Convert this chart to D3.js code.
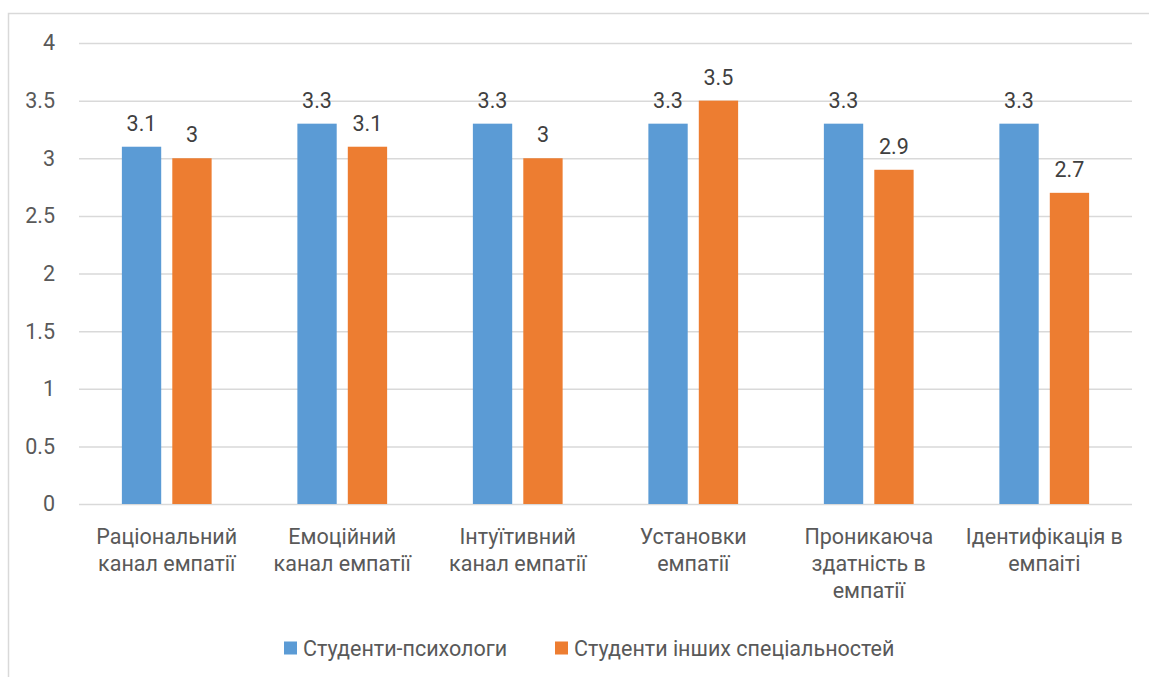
<!DOCTYPE html>
<html>
<head>
<meta charset="utf-8">
<script src="https://cdn.jsdelivr.net/npm/d3@7"></script>
<style>
  html, body { margin: 0; padding: 0; background: #fff; }
  svg { display: block; }
  text { font-family: Roboto, "Open Sans", "Noto Sans", sans-serif; }
</style>
</head>
<body>
<svg id="chart" width="1149" height="677"></svg>
<script>
const categories = [
  "Раціональний\nканал емпатії",
  "Емоційний\nканал емпатії",
  "Інтуїтивний\nканал емпатії",
  "Установки\nемпатії",
  "Проникаюча\nздатність в\nемпатії",
  "Ідентифікація в\nемпаіті"
];
const seriesNames = ["Студенти-психологи", "Студенти інших спеціальностей"];
const psychologists = [3.1, 3.3, 3.3, 3.3, 3.3, 3.3];
const others = [3, 3.1, 3, 3.5, 2.9, 2.7];
const yTicks = [0, 0.5, 1, 1.5, 2, 2.5, 3, 3.5, 4];
const colors = ["#5b9bd5", "#ed7d31"];

const FS = "21.5px";
const svg = d3.select("#chart");
const W = 1149, H = 677;
const plot = { left: 79, right: 1132, top: 43, bottom: 504 };

// outer chart border
svg.append("rect")
  .attr("x", 8.5).attr("y", 13.5)
  .attr("width", W + 20).attr("height", H + 20)
  .attr("fill", "#fff").attr("stroke", "#d9d9d9").attr("stroke-width", 1.5);

const x0 = d3.scaleBand().domain(categories).range([plot.left, plot.right]).paddingInner(0).paddingOuter(0);
const bw = x0.bandwidth();
const x1 = d3.scaleBand().domain([0, 1]).range([bw * 0.2443, bw * 0.7557]).paddingInner(0.22).paddingOuter(0);
const y = d3.scaleLinear().domain([0, 4]).range([plot.bottom, plot.top]);

// gridlines
const yAxis = d3.axisLeft(y).tickValues(yTicks).tickSize(-(plot.right - plot.left)).tickPadding(24)
  .tickFormat(d => d3.format("")(d));
const gy = svg.append("g").attr("transform", `translate(${plot.left},0)`).call(yAxis);
gy.select(".domain").remove();
gy.selectAll(".tick line").attr("stroke", "#d9d9d9").attr("stroke-width", 1.5);
gy.selectAll(".tick text").attr("fill", "#595959").style("font-size", FS).style("font-family", "Roboto, sans-serif");

const data = categories.map((c, i) => ({ cat: c, vals: [psychologists[i], others[i]] }));

const groups = svg.append("g").selectAll("g").data(data).join("g")
  .attr("transform", d => `translate(${x0(d.cat)},0)`);

groups.selectAll("rect").data(d => d.vals.map((v, k) => ({ v, k }))).join("rect")
  .attr("x", d => x1(d.k))
  .attr("width", x1.bandwidth())
  .attr("y", d => y(d.v))
  .attr("height", d => y(0) - y(d.v))
  .attr("fill", d => colors[d.k]);

groups.selectAll("text.val").data(d => d.vals.map((v, k) => ({ v, k }))).join("text")
  .attr("class", "val")
  .attr("x", d => x1(d.k) + x1.bandwidth() / 2)
  .attr("y", d => y(d.v) - 16)
  .attr("text-anchor", "middle")
  .attr("fill", "#404040")
  .style("font-size", FS)
  .text(d => d.v);

// x axis labels
const xAxis = d3.axisBottom(x0).tickSize(0).tickPadding(0).tickFormat("");
const gx = svg.append("g").attr("transform", `translate(0,${plot.bottom})`).call(xAxis);
gx.select(".domain").remove();
gx.selectAll(".tick").each(function(d) {
  const t = d3.select(this).append("text")
    .attr("fill", "#595959").attr("text-anchor", "middle")
    .style("font-size", FS).style("font-family", "Roboto, sans-serif")
    .attr("y", 40);
  d.split("\n").forEach((line, i) => {
    t.append("tspan").attr("x", 0).attr("dy", i === 0 ? 0 : 27).text(line);
  });
});

// legend
const legend = svg.append("g").attr("transform", "translate(284,648)");
const legX = [0, 271];
seriesNames.forEach((name, i) => {
  const g = legend.append("g").attr("transform", `translate(${legX[i]},0)`);
  g.append("rect").attr("x", 0).attr("y", -6.5).attr("width", 13).attr("height", 13).attr("fill", colors[i]);
  g.append("text").attr("x", 19).attr("y", 7.5).attr("fill", "#595959").style("font-size", FS).text(name);
});
</script>
</body>
</html>
